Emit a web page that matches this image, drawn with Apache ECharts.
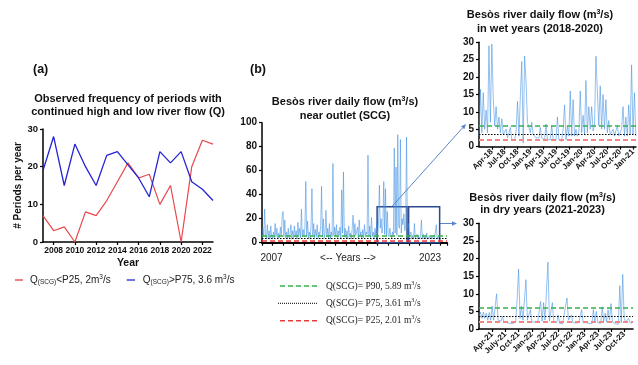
<!DOCTYPE html>
<html>
<head>
<meta charset="utf-8">
<script src="https://cdn.jsdelivr.net/npm/echarts@6.0.0/dist/echarts.min.js"></script>
<style>
  html, body { margin: 0; padding: 0; background: #fff; }
  #chart { width: 638px; height: 365px; }
</style>
</head>
<body>
<div id="chart"></div>
<script>
// panel (a): periods per year
const years = [2007, 2008, 2009, 2010, 2011, 2012, 2013, 2014, 2015, 2016, 2017, 2018, 2019, 2020, 2021, 2022, 2023]
const lowFreq = [7, 3, 4, 0, 8, 7, 11, 16, 21, 17, 18, 10, 15, 0, 20, 27, 26]
const highFreq = [19, 28, 15, 26, 20, 15, 23, 24, 20.5, 17, 12, 24, 21, 24, 16, 14, 11]
const yearTicks = [2008, 2010, 2012, 2014, 2016, 2018, 2020, 2022]

// panel (b): monthly samples 2007-2023 (years since 2007 on x)
const mainFlow = [
  4, 12, 5, 28, 6, 3, 15, 4, 10, 3, 14, 5,      // 2007
  3, 9, 4, 16, 5, 12, 3, 8, 4, 13, 6, 22,       // 2008
  26, 5, 19, 4, 9, 3, 12, 4, 7, 15, 3, 10,      // 2009
  4, 14, 5, 10, 3, 17, 6, 12, 4, 28, 5, 11,     // 2010
  6, 12, 51, 5, 18, 4, 9, 3, 14, 45, 6, 16,     // 2011
  4, 11, 5, 15, 3, 9, 6, 14, 47, 5, 20, 4,      // 2012
  8, 27, 5, 12, 4, 16, 3, 9, 5, 66, 6, 13,      // 2013
  5, 15, 4, 10, 6, 13, 3, 44, 8, 59, 5, 12,     // 2014
  4, 10, 3, 14, 5, 8, 3, 12, 23, 4, 16, 6,      // 2015
  5, 13, 4, 19, 6, 9, 3, 11, 4, 15, 5, 9,       // 2016
  7, 73, 6, 14, 4, 21, 5, 9, 3, 12, 5, 16,      // 2017
  6, 16, 48, 12, 20, 8, 15, 51, 7, 45, 6, 26,   // 2018
  7, 5, 12, 6, 4, 9, 5, 79, 8, 63, 6, 90,       // 2019
  14, 12, 86, 8, 20, 15, 24, 10, 14, 88, 12, 16, // 2020
  5, 4, 9, 3, 6, 3, 16, 4, 3, 7, 3, 5,          // 2021
  3, 6, 19, 4, 7, 3, 5, 3, 8, 3, 4, 6,          // 2022
  3, 5, 3, 4, 6, 3, 4, 15, 3, 5, 3, 4           // 2023
]
const zoomBoxes = [[10.95, 13.8], [13.95, 16.9]]  // 2018-2020, 2021-2023

// wet years, 3 samples per month from Jan-18
const wetFlow = [
  3, 16.5, 4,   15.5, 5, 10.5,  4, 29, 7,     29.5, 14, 6,
  11.5, 5, 8.5, 4, 8, 3.5,      3, 5, 2.5,    2, 5.5, 2,
  2.5, 2, 4.5,  13, 3, 14.5,    24.5, 1, 26,  18.5, 7, 5.5,
  4, 7, 3.5,    3, 2.5, 2.5,    2.5, 5.5, 2.5, 2, 2, 6.5,
  2, 2, 2,      6, 2, 2,        1.8, 8.5, 2,  2, 1.5, 5,
  12, 2, 6,     3, 16, 3,       13.5, 3, 5,   3, 4, 16,
  4, 9, 3.5,    19, 4, 11.5,    5, 11.5, 4.5, 6, 26, 16,
  6, 17.5, 5,   15, 5, 13.5,    4, 7.5, 3.5,  3, 5, 3,
  2.5, 6, 3,    3, 5, 11.5,     3, 8.5, 3,    12, 3.5, 23.5,
  3.5, 15.5, 3
]
const wetTickLabels = ['Jan-18', 'Apr-18', 'Jul-18', 'Oct-18', 'Jan-19', 'Apr-19', 'Jul-19', 'Oct-19', 'Jan-20', 'Apr-20', 'Jul-20', 'Oct-20', 'Jan-21']

// dry years, 3 samples per month from Jan-21
const dryFlow = [
  3.5, 4.8, 3,  4.8, 3, 4.5,    2.5, 4.7, 2.5, 6.5, 2.5, 3,
  10, 2.5, 2.2, 2.2, 3.5, 2,    2, 1.8, 1.8,  1.6, 1.7, 1.5,
  1.5, 2, 8.5,  17, 3, 6.5,     2.5, 2.2, 14, 2.5, 2.2, 5.5,
  2, 2, 2,      2, 2, 1.9,      7.8, 2.2, 7.5, 2.5, 2.5, 19,
  2.2, 2, 7.5,  2, 1.8, 1.8,    4, 1.6, 1.5,  1.5, 1.4, 6.5,
  8.8, 2.5, 2,  4, 1.8, 1.8,    1.7, 1.8, 1.8, 1.8, 5.5, 1.8,
  2, 1.8, 1.6,  1.6, 1.5, 1.5,  5.5, 2, 5,    1.8, 1.7, 1.6,
  6.3, 2.2, 4.5, 2, 5.5, 2.5,   7.2, 2, 1.6,  1.5, 1.4, 1.3,
  12.3, 1.8, 15.5, 3, 2, 1.8,   3, 1.8, 1.6
]
const dryTickLabels = ['Jan-21', 'Apr-21', 'July-21', 'Oct-21', 'Jan-22', 'Apr-22', 'Jul-22', 'Oct-22', 'Jan-23', 'Apr-23', 'Jul-23', 'Oct-23']

const P90 = 5.89
const P75 = 3.61
const P25 = 2.01

const FONT = '"Liberation Sans", Arial, sans-serif'
const SERIF = '"Liberation Serif", "Times New Roman", serif'
const FLOW_COLOR = 'rgba(60,142,226,0.55)'
const GREEN = '#33b24b'
const RED = '#e63c3c'

const chart = echarts.init(document.getElementById('chart'))

function baseAxis(extra) {
  return Object.assign({
    axisLine: { show: true, onZero: false, lineStyle: { color: '#000', width: 1.5 } },
    axisTick: { show: true, length: 3, lineStyle: { color: '#000', width: 1.2 } },
    splitLine: { show: false },
    axisLabel: { color: '#111', fontFamily: FONT, fontWeight: 'bold', fontSize: 9.5, margin: 5 }
  }, extra)
}

function thresholds(redColor, redWidth) {
  return {
    silent: true,
    symbol: 'none',
    label: { show: false },
    animation: false,
    data: [
      { yAxis: P90, lineStyle: { color: GREEN, type: [5, 3], width: 1.5 } },
      { yAxis: P75, lineStyle: { color: '#000', type: [1.5, 1.5], width: 1 } },
      { yAxis: P25, lineStyle: { color: redColor, type: [5, 3], width: redWidth } }
    ]
  }
}

function monthAxis(gridIndex, max, labels) {
  const ticks = labels.map((_, i) => i * 3).slice(1)
  return baseAxis({
    gridIndex, type: 'value', min: 0, max,
    axisTick: { show: true, length: 3, customValues: ticks, lineStyle: { color: '#000', width: 1.2 } },
    axisLabel: {
      customValues: ticks, rotate: 45, color: '#111', fontFamily: FONT, fontWeight: 'bold', fontSize: 8, margin: 4,
      formatter: v => labels[Math.round(v / 3)] || ''
    }
  })
}

function flowYAxis(gridIndex, max, interval, fontSize) {
  return baseAxis({
    gridIndex, type: 'value', min: 0, max, interval,
    axisLabel: { color: '#111', fontFamily: FONT, fontWeight: 'bold', fontSize, margin: 5 }
  })
}

// text helpers
function txt(x, y, rich, text, align) {
  return {
    type: 'text', x, y, silent: true,
    style: { text, rich, align: align || 'center', verticalAlign: 'middle' }
  }
}
const titleRich = {
  b: { fontFamily: FONT, fontWeight: 'bold', fontSize: 11, lineHeight: 13, fill: '#111' },
  s: { fontFamily: FONT, fontWeight: 'bold', fontSize: 7, lineHeight: 8, verticalAlign: 'top', fill: '#111' }
}
const legRich = {
  t: { fontFamily: FONT, fontSize: 10, lineHeight: 12, fill: '#222' },
  sub: { fontFamily: FONT, fontSize: 6.5, lineHeight: 7, verticalAlign: 'bottom', fill: '#222' },
  sup: { fontFamily: FONT, fontSize: 6.5, lineHeight: 7, verticalAlign: 'top', fill: '#222' }
}
const serifRich = {
  t: { fontFamily: SERIF, fontSize: 9.5, lineHeight: 12, fill: '#222' },
  sup: { fontFamily: SERIF, fontSize: 6, lineHeight: 7, verticalAlign: 'top', fill: '#222' }
}

function arrow(x1, y1, x2, y2) {
  const a = Math.atan2(y2 - y1, x2 - x1)
  const L = 5, W = 2.2
  const bx = x2 - L * Math.cos(a), by = y2 - L * Math.sin(a)
  const px = -Math.sin(a) * W, py = Math.cos(a) * W
  return [
    { type: 'line', silent: true, shape: { x1, y1, x2: bx, y2: by }, style: { stroke: '#5a86c8', lineWidth: 1 } },
    { type: 'polygon', silent: true, shape: { points: [[x2, y2], [bx + px, by + py], [bx - px, by - py]] }, style: { fill: '#5a86c8' } }
  ]
}

function legendLine(x1, x2, y, color, dash, width) {
  return { type: 'line', silent: true, shape: { x1, y1: y, x2, y2: y }, style: { stroke: color, lineDash: dash, lineWidth: width } }
}

const graphics = [
  txt(33, 70, { p: { fontFamily: FONT, fontWeight: 'bold', fontSize: 12.5, fill: '#111' } }, '{p|(a)}', 'left'),
  txt(250, 70, { p: { fontFamily: FONT, fontWeight: 'bold', fontSize: 12.5, fill: '#111' } }, '{p|(b)}', 'left'),
  txt(128, 99, titleRich, '{b|Observed frequency of periods with}'),
  txt(128, 111.7, titleRich, '{b|continued high and low river flow (Q)}'),
  txt(345, 101.7, titleRich, '{b|Besòs river daily flow (m}{s|3}{b|/s)}'),
  txt(345, 116, titleRich, '{b|near outlet (SCG)}'),
  txt(540, 15, titleRich, '{b|Besòs river daily flow (m}{s|3}{b|/s)}'),
  txt(540, 29.3, titleRich, '{b|in wet years (2018-2020)}'),
  txt(542.5, 197.7, titleRich, '{b|Besòs river daily flow (m}{s|3}{b|/s)}'),
  txt(542.5, 210, titleRich, '{b|in dry years (2021-2023)}'),
  txt(271.5, 258, { t: { fontFamily: FONT, fontSize: 10, fill: '#222' } }, '{t|2007}'),
  txt(430, 258, { t: { fontFamily: FONT, fontSize: 10, fill: '#222' } }, '{t|2023}'),
  txt(348, 258, { t: { fontFamily: FONT, fontSize: 10, fill: '#222' } }, '{t|<-- Years -->}'),
  // legend (a)
  legendLine(15, 23, 280, RED, null, 1.3),
  txt(30, 280, legRich, '{t|Q}{sub|(SCG)}{t|<P25, 2m}{sup|3}{t|/s}', 'left'),
  legendLine(126.7, 135, 280, '#2424d4', null, 1.3),
  txt(142.7, 280, legRich, '{t|Q}{sub|(SCG)}{t|>P75, 3.6 m}{sup|3}{t|/s}', 'left'),
  // legend (b)
  legendLine(280, 318, 286, GREEN, [5, 3], 1.5),
  txt(326, 286, serifRich, '{t|Q(SCG)= P90, 5.89 m}{sup|3}{t|/s}', 'left'),
  legendLine(278, 318, 303.3, '#000', [1, 1], 1),
  txt(326, 303.3, serifRich, '{t|Q(SCG)= P75, 3.61 m}{sup|3}{t|/s}', 'left'),
  legendLine(280, 318, 320.7, RED, [5, 3], 1.5),
  txt(326, 320.7, serifRich, '{t|Q(SCG)= P25, 2.01 m}{sup|3}{t|/s}', 'left'),
  ...arrow(392, 206.5, 466, 124),
  ...arrow(440, 223.5, 457, 223.5)
]

const option = {
  animation: false,
  backgroundColor: '#fff',
  grid: [
    { left: 43, top: 129, width: 170, height: 113 },
    { left: 262, top: 122.7, width: 185, height: 120 },
    { left: 479, top: 42.3, width: 157, height: 104.3 },
    { left: 479, top: 223.3, width: 154, height: 105.7 }
  ],
  xAxis: [
    baseAxis({
      gridIndex: 0, type: 'value', min: 2007, max: 2023,
      axisTick: { show: true, length: 3, customValues: yearTicks, lineStyle: { color: '#000', width: 1.2 } },
      axisLabel: { customValues: yearTicks, formatter: v => String(v), color: '#111', fontFamily: FONT, fontWeight: 'bold', fontSize: 8.5, margin: 4 },
      name: 'Year', nameLocation: 'middle', nameGap: 16,
      nameTextStyle: { fontFamily: FONT, fontWeight: 'bold', fontSize: 10.5, color: '#111' }
    }),
    baseAxis({
      gridIndex: 1, type: 'value', min: 0, max: 17.6, interval: 1,
      axisLine: { show: true, onZero: false, lineStyle: { color: '#000', width: 2 } },
      axisLabel: { show: false }
    }),
    monthAxis(2, 36.7, wetTickLabels),
    monthAxis(3, 35, dryTickLabels)
  ],
  yAxis: [
    baseAxis({
      gridIndex: 0, type: 'value', min: 0, max: 30, interval: 10,
      name: '# Periods per year', nameLocation: 'middle', nameGap: 18, nameRotate: 90,
      nameTextStyle: { fontFamily: FONT, fontWeight: 'bold', fontSize: 10, color: '#111' }
    }),
    flowYAxis(1, 100, 20, 10),
    flowYAxis(2, 30, 5, 10),
    flowYAxis(3, 30, 5, 10)
  ],
  series: [
    {
      type: 'line', xAxisIndex: 0, yAxisIndex: 0, symbol: 'none', silent: true,
      data: years.map((y, i) => [y, lowFreq[i]]),
      lineStyle: { color: '#e8474c', width: 1.2 }
    },
    {
      type: 'line', xAxisIndex: 0, yAxisIndex: 0, symbol: 'none', silent: true,
      data: years.map((y, i) => [y, highFreq[i]]),
      lineStyle: { color: '#2424d4', width: 1.3 }
    },
    {
      type: 'line', xAxisIndex: 1, yAxisIndex: 1, symbol: 'none', silent: true,
      data: mainFlow.map((v, i) => [i / 12, v]),
      lineStyle: { color: FLOW_COLOR, width: 1 },
      markLine: thresholds(RED, 1.5),
      markArea: {
        silent: true,
        itemStyle: { color: 'rgba(0,0,0,0)', borderColor: '#2b4b8e', borderWidth: 1.5 },
        data: zoomBoxes.map(b => [{ xAxis: b[0], yAxis: 0 }, { xAxis: b[1], yAxis: 30 }])
      }
    },
    {
      type: 'line', xAxisIndex: 2, yAxisIndex: 2, symbol: 'none', silent: true,
      data: wetFlow.map((v, i) => [i / 3, v]),
      lineStyle: { color: FLOW_COLOR, width: 1 },
      markLine: thresholds('#f08888', 2)
    },
    {
      type: 'line', xAxisIndex: 3, yAxisIndex: 3, symbol: 'none', silent: true,
      data: dryFlow.map((v, i) => [i / 3, v]),
      lineStyle: { color: FLOW_COLOR, width: 1 },
      markLine: thresholds('#f08888', 2)
    }
  ],
  graphic: graphics
}

chart.setOption(option)
</script>
</body>
</html>
